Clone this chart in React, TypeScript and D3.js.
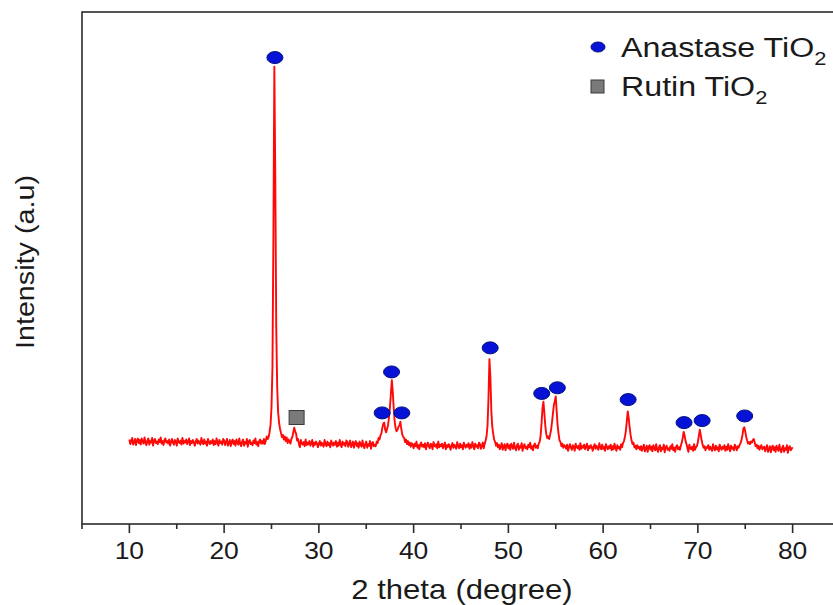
import React, { useEffect, useRef } from "react";
import * as d3 from "d3";

// XRD pattern, 10° to 80° at 0.1° steps (one row per degree)
const startAngle = 10;
const stepAngle = 0.1;
const intensity: number[] = [
  165, 156, 162, 168, 155, 160, 166, 154, 163, 167,
  158, 164, 155, 167, 161, 157, 169, 159, 154, 163,
  167, 155, 162, 159, 168, 153, 163, 166, 158, 161,
  156, 165, 160, 169, 157, 162, 154, 164, 167, 159,
  162, 157, 165, 153, 160, 166, 159, 155, 164, 161,
  153, 167, 160, 158, 163, 155, 168, 157, 162, 159,
  165, 156, 161, 167, 154, 162, 158, 164, 160, 153,
  161, 166, 157, 163, 159, 155, 168, 160, 156, 165,
  157, 161, 153, 166, 160, 156, 162, 158, 165, 154,
  162, 156, 167, 159, 153, 164, 158, 161, 155, 166,
  163, 154, 160, 166, 153, 158, 164, 152, 161, 165, // 20
  156, 162, 153, 165, 159, 155, 167, 157, 152, 161,
  165, 153, 160, 157, 166, 151, 161, 164, 156, 159,
  154, 163, 158, 167, 155, 160, 152, 162, 165, 157,
  162, 157, 166, 156, 163, 171, 166, 170, 180, 194,
  228, 305, 560, 893, 680, 385, 268, 218, 198, 186, // 25
  178, 170, 174, 165, 171, 162, 169, 158, 165, 161,
  157, 166, 170, 179, 188, 181, 176, 163, 166, 156,
  150, 164, 157, 155, 160, 152, 165, 154, 159, 156,
  162, 153, 158, 164, 151, 159, 155, 161, 157, 150,
  157, 162, 153, 159, 155, 151, 164, 156, 152, 161, // 30
  154, 158, 150, 163, 157, 153, 159, 155, 162, 151,
  159, 153, 164, 156, 150, 161, 155, 158, 152, 163,
  160, 151, 157, 163, 150, 155, 161, 149, 158, 162,
  152, 158, 149, 161, 155, 151, 163, 153, 148, 157,
  161, 149, 156, 153, 162, 147, 157, 160, 152, 155,
  152, 161, 158, 168, 165, 173, 177, 188, 196, 198,
  184, 179, 186, 193, 208, 228, 255, 281, 258, 226,
  200, 187, 181, 184, 190, 192, 200, 186, 175, 170,
  168, 160, 165, 156, 162, 154, 159, 151, 158, 155,
  148, 157, 152, 161, 149, 154, 146, 156, 159, 151, // 40
  155, 150, 158, 146, 153, 159, 152, 148, 157, 154,
  146, 160, 153, 151, 156, 148, 161, 150, 155, 152,
  157, 148, 153, 159, 146, 154, 150, 156, 152, 145,
  153, 158, 149, 155, 151, 147, 160, 152, 148, 157,
  150, 154, 146, 159, 153, 149, 155, 151, 158, 147,
  155, 149, 160, 152, 146, 157, 151, 154, 148, 159,
  156, 147, 153, 159, 148, 157, 163, 172, 192, 245,
  322, 288, 222, 190, 176, 165, 160, 153, 158, 150,
  155, 146, 152, 158, 145, 150, 156, 144, 153, 157,
  148, 154, 145, 157, 151, 147, 159, 149, 144, 153, // 50
  157, 145, 152, 149, 158, 143, 153, 156, 148, 151,
  146, 155, 150, 159, 147, 152, 144, 154, 157, 149,
  153, 148, 157, 160, 172, 196, 226, 239, 216, 191,
  176, 168, 171, 166, 174, 183, 198, 215, 232, 240,
  249, 220, 192, 176, 163, 160, 152, 157, 149, 154,
  152, 147, 155, 143, 150, 156, 149, 145, 154, 151,
  143, 157, 150, 148, 153, 145, 158, 147, 152, 149,
  155, 146, 151, 157, 144, 152, 148, 154, 150, 143,
  151, 156, 147, 153, 149, 145, 158, 150, 146, 155,
  147, 151, 143, 156, 150, 146, 152, 148, 155, 144, // 60
  152, 146, 157, 149, 143, 154, 148, 151, 145, 156,
  150, 158, 162, 170, 182, 201, 220, 207, 188, 174,
  163, 156, 159, 150, 153, 146, 154, 148, 151, 145,
  152, 143, 149, 155, 142, 147, 153, 141, 150, 154,
  145, 151, 142, 154, 148, 144, 156, 146, 141, 150,
  154, 142, 149, 146, 155, 140, 150, 153, 145, 148,
  143, 152, 147, 156, 144, 149, 141, 151, 154, 146,
  150, 145, 153, 159, 168, 180, 173, 162, 156, 148,
  141, 155, 148, 146, 151, 143, 156, 145, 150, 152,
  160, 172, 184, 174, 163, 155, 149, 152, 144, 150, // 70
  149, 154, 145, 151, 147, 143, 156, 148, 144, 153,
  146, 150, 142, 155, 149, 145, 151, 147, 154, 143,
  151, 145, 156, 148, 142, 153, 147, 150, 144, 155,
  150, 144, 152, 149, 154, 158, 164, 173, 186, 189,
  181, 170, 163, 157, 160, 156, 161, 159, 164, 166,
  159, 152, 155, 148, 153, 145, 150, 154, 146, 149,
  151, 142, 148, 154, 141, 146, 152, 140, 149, 153,
  144, 150, 141, 153, 147, 143, 155, 145, 140, 149,
  153, 141, 148, 145, 154, 139, 149, 152, 144, 147,
  150,
];

// phase markers: [2theta, intensity where the marker sits]
const anastaseMarks: [number, number][] = [
  [25.36, 911], [36.68, 217], [37.67, 297], [38.75, 217], [48.08, 344],
  [53.52, 255], [55.17, 266], [62.64, 243], [68.54, 198], [70.45, 202], [74.94, 211],
];
const rutileMarks: [number, number][] = [[27.65, 208]];

const majorTicks = [10, 20, 30, 40, 50, 60, 70, 80];
const minorTicks = [5, 15, 25, 35, 45, 55, 65, 75, 85];

const xTitle = "2 theta";
const xTitleUnit = "(degree)";
const yTitle = "Intensity (a.u)";
const legendLabels = ["Anastase TiO", "Rutin TiO"];

const FONT = "'Liberation Sans', Arial, sans-serif";
const STRETCH = 1.15;

const App = () => {
  const svgRef = useRef<SVGSVGElement>(null);

  useEffect(() => {
    const width = 833;
    const height = 605;
    const plot = { left: 82, right: 840, top: 12, bottom: 524 };

    const svg = d3.select(svgRef.current).attr("width", width).attr("height", height);
    svg.selectAll("*").remove();

    const x = d3.scaleLinear().domain([5, 85]).range([plot.left, plot.right]);
    const y = d3.scaleLinear().domain([0, 1000]).range([plot.bottom, plot.top]);

    // frame
    svg
      .append("rect")
      .attr("x", plot.left)
      .attr("y", plot.top)
      .attr("width", plot.right - plot.left)
      .attr("height", plot.bottom - plot.top)
      .attr("fill", "none")
      .attr("stroke", "#2b2b2b")
      .attr("stroke-width", 1.6);

    // bottom ticks
    svg
      .append("g")
      .selectAll("line.major")
      .data(majorTicks)
      .enter()
      .append("line")
      .attr("x1", (d) => x(d))
      .attr("x2", (d) => x(d))
      .attr("y1", plot.bottom)
      .attr("y2", plot.bottom + 9)
      .attr("stroke", "#2b2b2b")
      .attr("stroke-width", 1.6);

    svg
      .append("g")
      .selectAll("line.minor")
      .data(minorTicks)
      .enter()
      .append("line")
      .attr("x1", (d) => x(d))
      .attr("x2", (d) => x(d))
      .attr("y1", plot.bottom)
      .attr("y2", plot.bottom + 5)
      .attr("stroke", "#2b2b2b")
      .attr("stroke-width", 1.6);

    svg
      .append("g")
      .selectAll("text")
      .data(majorTicks)
      .enter()
      .append("text")
      .attr("transform", (d) => `translate(${x(d)},559) scale(${STRETCH},1)`)
      .attr("text-anchor", "middle")
      .attr("font-family", FONT)
      .attr("font-size", 23)
      .attr("fill", "#1a1a1a")
      .text((d) => d);

    // axis titles
    const xt = svg
      .append("text")
      .attr("transform", `translate(462,599) scale(${STRETCH},1)`)
      .attr("text-anchor", "middle")
      .attr("font-family", FONT)
      .attr("font-size", 27)
      .attr("fill", "#1a1a1a");
    xt.append("tspan").text(xTitle);
    xt.append("tspan").attr("dx", 8).text(xTitleUnit);

    svg
      .append("text")
      .attr("transform", `translate(34,262) rotate(-90) scale(${STRETCH},1)`)
      .attr("text-anchor", "middle")
      .attr("font-family", FONT)
      .attr("font-size", 25)
      .attr("fill", "#1a1a1a")
      .text(yTitle);

    // pattern
    const points: [number, number][] = intensity.map((v, i) => [startAngle + i * stepAngle, v]);
    const line = d3
      .line<[number, number]>()
      .x((d) => x(d[0]))
      .y((d) => y(d[1]));

    svg
      .append("path")
      .datum(points)
      .attr("fill", "none")
      .attr("stroke", "#ff0808")
      .attr("stroke-width", 1.9)
      .attr("stroke-linejoin", "round")
      .attr("d", line);

    // markers
    svg
      .append("g")
      .selectAll("ellipse")
      .data(anastaseMarks)
      .enter()
      .append("ellipse")
      .attr("cx", (d) => x(d[0]))
      .attr("cy", (d) => y(d[1]))
      .attr("rx", 8)
      .attr("ry", 6)
      .attr("fill", "#0612d6")
      .attr("stroke", "#00107a")
      .attr("stroke-width", 1);

    svg
      .append("g")
      .selectAll("rect")
      .data(rutileMarks)
      .enter()
      .append("rect")
      .attr("x", (d) => x(d[0]) - 7.5)
      .attr("y", (d) => y(d[1]) - 7)
      .attr("width", 15)
      .attr("height", 14)
      .attr("fill", "#7a7a7a")
      .attr("stroke", "#3a3a3a")
      .attr("stroke-width", 1);

    // legend
    const legend = svg.append("g");
    legend
      .append("ellipse")
      .attr("cx", 598)
      .attr("cy", 47)
      .attr("rx", 7)
      .attr("ry", 5)
      .attr("fill", "#0612d6")
      .attr("stroke", "#00107a");
    legend
      .append("rect")
      .attr("x", 591)
      .attr("y", 80)
      .attr("width", 13)
      .attr("height", 13)
      .attr("fill", "#7a7a7a")
      .attr("stroke", "#3a3a3a");

    legendLabels.forEach((label, i) => {
      const t = legend
        .append("text")
        .attr("transform", `translate(621,${57 + i * 39}) scale(${STRETCH},1)`)
        .attr("font-family", FONT)
        .attr("font-size", 28)
        .attr("fill", "#1a1a1a");
      t.append("tspan").text(label);
      t.append("tspan").attr("dy", 8).attr("font-size", 19).text("2");
    });
  }, []);

  return (
    <svg
      ref={svgRef}
      width={833}
      height={605}
      style={{ position: "absolute", left: 0, top: 0, background: "#fff", display: "block" }}
    />
  );
};

export default App;
